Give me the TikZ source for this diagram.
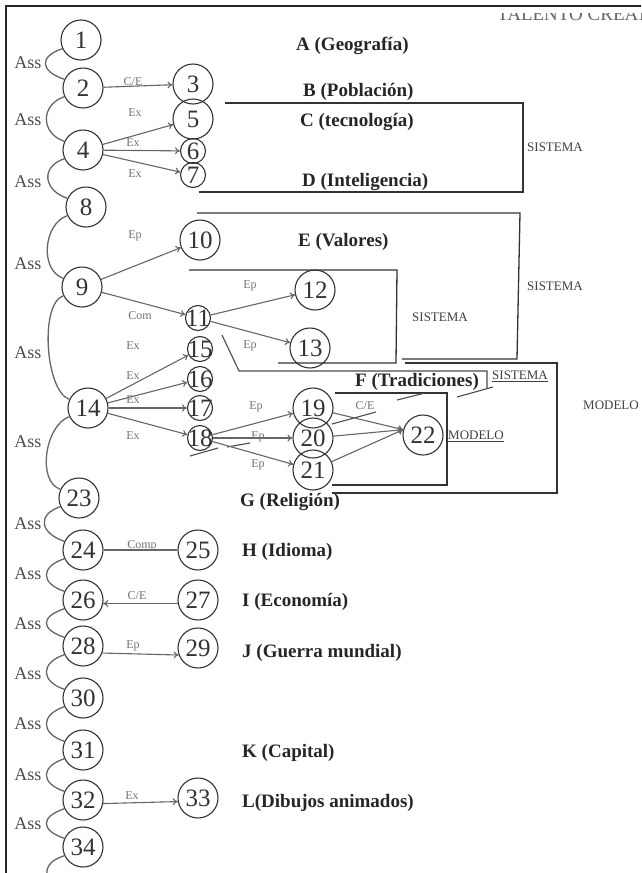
\documentclass[tikz,border=0pt]{standalone}
\usepackage{fontspec}
\setmainfont{Liberation Serif}
\usetikzlibrary{arrows.meta}

\begin{document}
\begin{tikzpicture}[x=1pt,y=-1pt,
    num/.style={circle, draw=black!80, line width=1.1pt, minimum size=40pt, inner sep=0pt, text=black!80, font=\fontsize{25}{25}\selectfont},
    snum/.style={num, minimum size=25pt},
    topic/.style={anchor=west, inner sep=0pt, text=black!85, font=\bfseries\fontsize{19}{19}\selectfont},
    rel/.style={inner sep=0pt, text=black!55, font=\fontsize{12}{12}\selectfont},
    asslbl/.style={inner sep=0pt, text=black!70, font=\fontsize{18}{18}\selectfont},
    kind/.style={anchor=west, inner sep=0pt, text=black!75, font=\fontsize{13}{13}\selectfont},
    arr/.style={-{To[length=5pt,width=7pt]}, black!60, line width=1.1pt},
    link/.style={black!60, line width=1.3pt},
    box/.style={black!80, line width=1.3pt},
    scrib/.style={black!70, line width=1.1pt}]
    \clip (0,0) rectangle (641,873);
    \fill[white] (0,0) rectangle (641,873);
    \draw[black!85, line width=1.2pt] (6,873) -- (6,6) -- (641,6);
    \begin{scope}
        \clip (0,13) rectangle (641,30);
        \node[anchor=base west, inner sep=0pt, text=black!60, font=\fontsize{19}{19}\selectfont] (head) at (497,20) {TALENTO CREATIVO};
    \end{scope}

    % left chain
    \node[num] (n1) at (81,40) {1};
    \node[num] (n2) at (83,88) {2};
    \node[num] (n4) at (83,150) {4};
    \node[num] (n8) at (86,207) {8};
    \node[num] (n9) at (82,287) {9};
    \node[num] (n14) at (88,408) {14};
    \node[num] (n23) at (79,498) {23};
    \node[num] (n24) at (83,550) {24};
    \node[num] (n26) at (83,600) {26};
    \node[num] (n28) at (83,646) {28};
    \node[num] (n30) at (83,698) {30};
    \node[num] (n31) at (83,750) {31};
    \node[num] (n32) at (83,800) {32};
    \node[num] (n34) at (83,847) {34};
    \coordinate (n35) at (48,885);

    % second column
    \node[num] (n3) at (193,84) {3};
    \node[num] (n5) at (193,119) {5};
    \node[snum] (n6) at (193,151) {\makebox[0pt]{6}};
    \node[snum] (n7) at (193,175) {\makebox[0pt]{7}};
    \node[num] (n10) at (200,240) {10};
    \node[snum] (n11) at (198,318) {\makebox[0pt]{11}};
    \node[snum] (n15) at (200,349) {\makebox[0pt]{15}};
    \node[snum] (n16) at (200,379) {\makebox[0pt]{16}};
    \node[snum] (n17) at (200,408) {\makebox[0pt]{17}};
    \node[snum] (n18) at (200,438) {\makebox[0pt]{18}};
    \node[num] (n25) at (198,550) {25};
    \node[num] (n27) at (198,600) {27};
    \node[num] (n29) at (198,648) {29};
    \node[num] (n33) at (198,798) {33};

    % third column
    \node[num] (n12) at (315,290) {12};
    \node[num] (n13) at (310,348) {13};
    \node[num] (n19) at (313,408) {19};
    \node[num] (n20) at (313,438) {20};
    \node[num] (n21) at (313,470) {21};
    \node[num] (n22) at (423,435) {22};

    % topics
    \node[topic] (geo) at (296,46) {A (Geografía)};
    \node[topic] (pob) at (303,92) {B (Población)};
    \node[topic] (tec) at (300,122) {C (tecnología)};
    \node[topic] (intel) at (302,182) {D (Inteligencia)};
    \node[topic] (val) at (298,242) {E (Valores)};
    \node[topic] (trad) at (355,382) {F (Tradiciones)};
    \node[topic] (reli) at (240,502) {G (Religión)};
    \node[topic] (idi) at (242,552) {H (Idioma)};
    \node[topic] (eco) at (242,602) {I (Economía)};
    \node[topic] (gue) at (242,653) {J (Guerra mundial)};
    \node[topic] (capi) at (242,753) {K (Capital)};
    \node[topic] (dib) at (242,803) {L(Dibujos animados)};

    % systems and models
    \draw[box] (225,103) -- (523,103) -- (523,192) -- (199,192);
    \draw[box] (197,213) -- (520,213) -- (517,359) -- (402,359);
    \draw[box] (189,270) -- (397,270) -- (396,363) -- (278,363);
    \draw[box] (405,363) -- (557,363) -- (557,493) -- (332,493);
    \draw[box] (335,393) -- (447,393) -- (447,485) -- (332,485);
    \node[kind] (sis1) at (527,147) {SISTEMA};
    \node[kind] (sis2) at (527,286) {SISTEMA};
    \node[kind] (sis3) at (412,317) {SISTEMA};
    \node[kind] (sis4) at (492,376) {\underline{SISTEMA}};
    \node[kind] (mod1) at (583,405) {MODELO};
    \node[kind] (mod2) at (448,436) {\underline{MODELO}};
    \draw[scrib] (222,335) -- (239,371) -- (487,371) -- (487,388);
    \draw[scrib] (457,397) -- (493,387);
    \draw[scrib] (397,400) -- (425,393);
    \draw[scrib] (332,424) -- (376,412);
    \draw[scrib] (190,456) -- (218,448);
    \draw[scrib] (227,447) -- (250,443);

    % Ass links
    \foreach \a/\b/\y [count=\i] in {1/2/63,2/4/120,4/8/182,8/9/264,9/14/353,14/23/442,23/24/524,24/26/574,26/28/624,28/30/674,30/31/724,31/32/775,32/34/824}{
        \draw[link] (n\a.205) .. controls +(-24,8) and +(-24,-8) .. (n\b.155);
        \node[asslbl] (ass\i) at (28,\y) {Ass};
    }
    \draw[link] (n34.205) .. controls +(-24,8) and +(0,-10) .. (n35);
    \node[asslbl] (ass14) at (28,884) {Ass};

    % relations
    \draw[arr] (n2) -- (n3);
    \draw[arr] (n4) -- (n5);
    \draw[arr] (n4) -- (n6);
    \draw[arr] (n4) -- (n7);
    \draw[arr] (n9) -- (n10);
    \draw[arr] (n9) -- (n11);
    \draw[arr] (n11) -- (n12);
    \draw[arr] (n11) -- (n13);
    \foreach \t in {15,16,17,18}
        \draw[arr] (n14) -- (n\t);
    \foreach \t in {19,20,21}
        \draw[arr] (n18) -- (n\t);
    \foreach \s in {19,20,21}
        \draw[arr] (n\s) -- (n22.165);
    \draw[link] (n24) -- (n25);
    \draw[arr] (n27.190) -- (n26.-10);
    \draw[arr] (n28.-20) -- (n29.200);
    \draw[arr] (n32.-10) -- (n33.190);

    \node[rel] (r2) at (133,82) {C/E};
    \node[rel] (r4a) at (135,113) {Ex};
    \node[rel] (r4b) at (133,143) {Ex};
    \node[rel] (r4c) at (135,174) {Ex};
    \node[rel] (r9a) at (135,236) {Ep};
    \node[rel] (r9b) at (140,316) {Com};
    \node[rel] (r14a) at (133,346) {Ex};
    \node[rel] (r14b) at (133,376) {Ex};
    \node[rel] (r14c) at (133,400) {Ex};
    \node[rel] (r14d) at (133,436) {Ex};
    \node[rel] (r11a) at (250,286) {Ep};
    \node[rel] (r11b) at (250,346) {Ep};
    \node[rel] (r18a) at (256,407) {Ep};
    \node[rel] (r18b) at (258,437) {Ep};
    \node[rel] (r18c) at (258,465) {Ep};
    \node[rel] (r22) at (365,406) {C/E};
    \node[rel] (r24) at (142,546) {Comp};
    \node[rel] (r27) at (137,596) {C/E};
    \node[rel] (r28) at (133,646) {Ep};
    \node[rel] (r32) at (132,796) {Ex};
\end{tikzpicture}
\end{document}
